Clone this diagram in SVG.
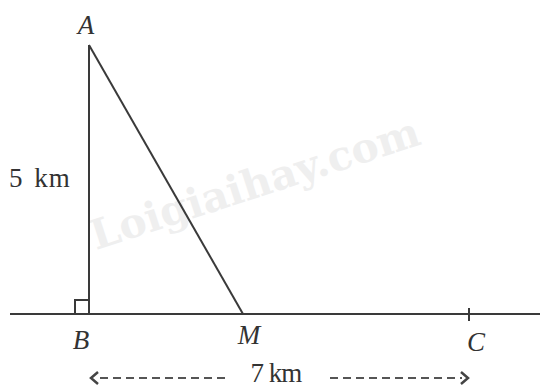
<svg xmlns="http://www.w3.org/2000/svg" width="540" height="389" viewBox="0 0 540 389">
<style>
.ln{stroke:#3a3a3a;stroke-width:2;fill:none}
.lb{font-family:"Liberation Serif",serif;font-style:italic;font-size:27px;fill:#333}
.tx{font-family:"Liberation Serif",serif;font-size:27px;fill:#333}
.ds{stroke:#555;stroke-width:2;stroke-dasharray:8,5;fill:none}
.ar{stroke:#444;stroke-width:2.5;fill:none}
</style>
<rect width="540" height="389" fill="#fff"/>
<text x="0" y="0" transform="translate(96,250) rotate(-18)" font-family="'DejaVu Serif',serif" font-weight="bold" font-size="41" fill="#efefef">Loigiaihay.com</text>
<g id="connectors">
<line class="ln" x1="10" y1="314" x2="540" y2="314"/>
<line class="ln" x1="89" y1="45" x2="89" y2="314"/>
<line class="ln" x1="89" y1="45" x2="243" y2="314"/>
<path class="ln" d="M75 314 V300 H89"/>
<line class="ln" x1="469" y1="308" x2="469" y2="321" stroke-width="3"/>
<line class="ds" x1="100" y1="378" x2="228" y2="378"/>
<line class="ds" x1="330" y1="378" x2="462" y2="378"/>
<path class="ar" d="M98 372 L91 378 L98 384"/>
<path class="ar" d="M461 372 L468 378 L461 384"/>
</g>
<g id="A"><text class="lb" x="86" y="34" text-anchor="middle">A</text></g>
<g id="B"><text class="lb" x="81" y="349" text-anchor="middle">B</text></g>
<g id="M"><text class="lb" x="249" y="344" text-anchor="middle">M</text></g>
<g id="C"><text class="lb" x="476" y="351" text-anchor="middle">C</text></g>
<g id="lbl5"><text class="tx" x="9" y="187" word-spacing="3" letter-spacing="1">5 km</text></g>
<g id="lbl7"><text class="tx" x="276" y="382" text-anchor="middle" letter-spacing="-1" font-size="26">7 km</text></g>
</svg>
